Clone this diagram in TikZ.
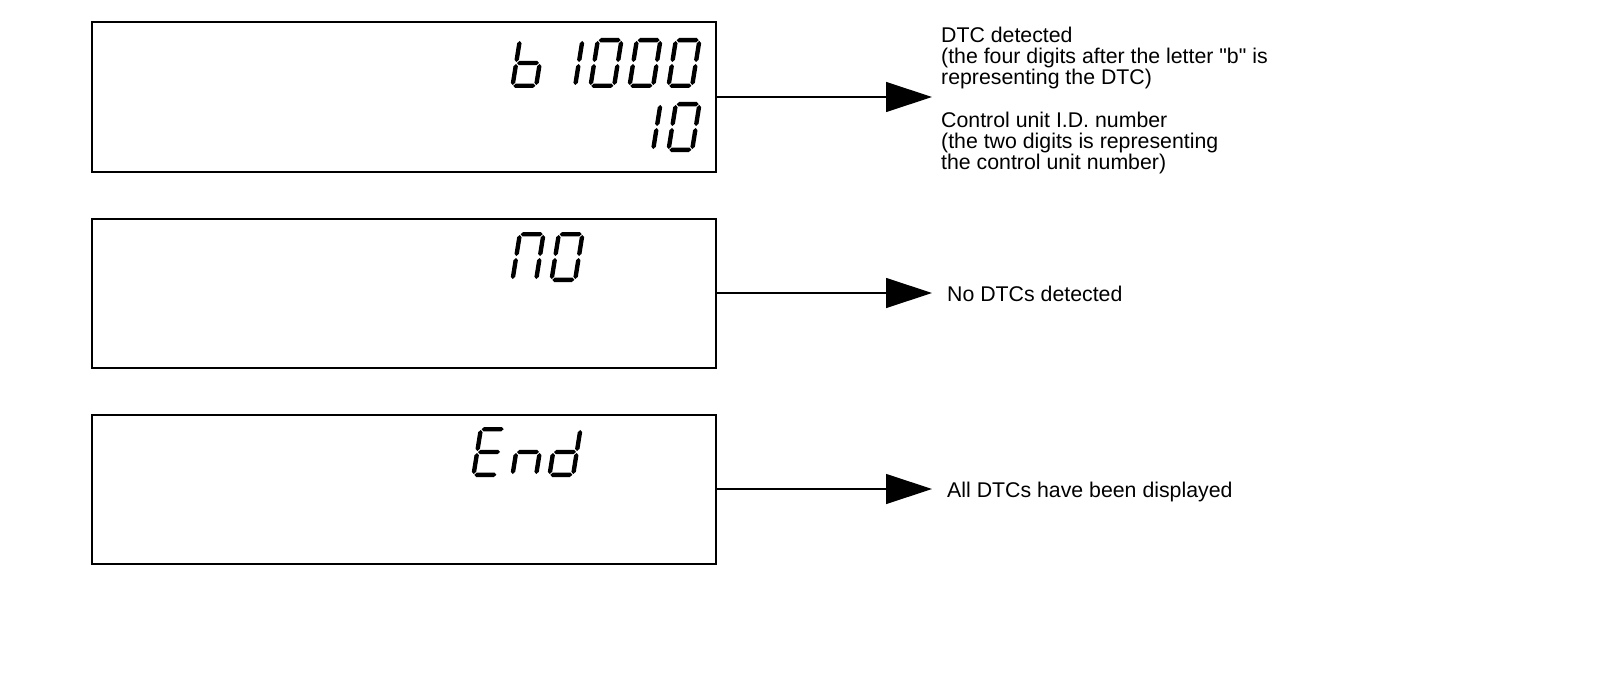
\documentclass[tikz,border=0pt]{standalone}
\usepackage{fontspec}
\setmainfont{Liberation Sans}[Ligatures=TeXOff]
\usetikzlibrary{arrows.meta,positioning}

\newcommand{\hseg}[3]{\fill (#1,#3) -- (#1+2.2,#3+2.2) -- (#2-2.2,#3+2.2) -- (#2,#3) -- (#2-2.2,#3-2.2) -- (#1+2.2,#3-2.2) -- cycle;}
\newcommand{\vseg}[3]{\fill (#1,#2) -- (#1+2.2,#2+2.2) -- (#1+2.2,#3-2.2) -- (#1,#3) -- (#1-2.2,#3-2.2) -- (#1-2.2,#2+2.2) -- cycle;}
\newcommand{\lcdsega}{\hseg{3}{25}{47.8}}
\newcommand{\lcdsegb}{\vseg{25.8}{26}{47}}
\newcommand{\lcdsegc}{\vseg{25.8}{3}{24}}
\newcommand{\lcdsegd}{\hseg{3}{25}{2.2}}
\newcommand{\lcdsege}{\vseg{2.2}{3}{24}}
\newcommand{\lcdsegf}{\vseg{2.2}{26}{47}}
\newcommand{\lcdsegg}{\hseg{3}{25}{25}}
\newcommand{\lcdchar}[2]{\begin{scope}[shift={#1},xslant=0.16]\foreach \s in {#2}{\csname lcdseg\s\endcsname}\end{scope}}

\begin{document}
\begin{tikzpicture}[x=1pt, y=1pt, node distance=47pt,
  lcdbox/.style={draw, line width=2pt, minimum width=624pt, minimum height=149pt, inner sep=0pt, outer sep=0pt},
  note/.style={align=left, inner sep=0pt, font={\fontsize{21.3}{21.2}\selectfont}},
  pointer/.style={line width=1.2pt, -{Triangle[length=46pt,width=30pt]}}]
\useasboundingbox (0,0) rectangle (1600,-698);
\node[lcdbox] (box1) at (404,-97) {};
\node[lcdbox, below=of box1] (box2) {};
\node[lcdbox, below=of box2] (box3) {};
\node[note, right=225pt of box1, yshift=-3.5pt] (txt1) {DTC detected\\(the four digits after the letter "b" is\\representing the DTC)\\[21.2pt]Control unit I.D. number\\(the two digits is representing\\the control unit number)};
\node[note, right=231pt of box2, yshift=-1pt] (txt2) {No DTCs detected};
\node[note, right=231pt of box3, yshift=-3pt] (txt3) {All DTCs have been displayed};
\draw[pointer, shorten >=9pt] (box1.east) -- (box1.east -| txt1.west);
\draw[pointer, shorten >=15pt] (box2.east) -- (box2.east -| txt2.west);
\draw[pointer, shorten >=15pt] (box3.east) -- (box3.east -| txt3.west);
\lcdchar{(510,-88)}{c,d,e,f,g}
\lcdchar{(549,-88)}{b,c}
\lcdchar{(588,-88)}{a,b,c,d,e,f}
\lcdchar{(627,-88)}{a,b,c,d,e,f}
\lcdchar{(666,-88)}{a,b,c,d,e,f}
\lcdchar{(627,-152)}{b,c}
\lcdchar{(666,-152)}{a,b,c,d,e,f}
\lcdchar{(510,-282)}{a,b,c,e,f}
\lcdchar{(549,-282)}{a,b,c,d,e,f}
\lcdchar{(471,-477)}{a,d,e,f,g}
\lcdchar{(510,-477)}{c,e,g}
\lcdchar{(547,-477)}{b,c,d,e,g}
\end{tikzpicture}
\end{document}
